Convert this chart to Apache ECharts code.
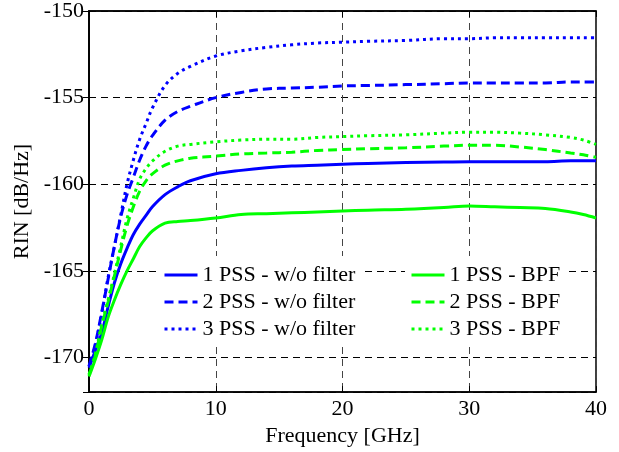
<!DOCTYPE html>
<html>
<head>
<meta charset="utf-8">
<script src="https://cdn.jsdelivr.net/npm/echarts@6/dist/echarts.min.js"></script>
<style>
  html, body { margin: 0; padding: 0; background: #fff; }
  #chart { width: 619px; height: 452px; }
</style>
</head>
<body>
<div id="chart"></div>
<script>
// frequency points [GHz]
const freq = [0, 0.5, 1, 1.5, 2, 2.5, 3, 3.5, 4, 4.5, 5, 6, 7, 8, 10, 12, 14, 16, 18, 20, 22, 25, 28, 30, 32, 34, 36, 38, 39, 40]

// RIN [dB/Hz]
const pss1NoFilter = [-170.6, -169.6, -168.6, -167.1, -165.7, -164.6, -163.7, -162.9, -162.3, -161.8, -161.3, -160.6, -160.15, -159.8, -159.4, -159.2, -159.05, -158.95, -158.9, -158.85, -158.8, -158.75, -158.72, -158.7, -158.7, -158.7, -158.7, -158.65, -158.65, -158.65]
const pss2NoFilter = [-170.5, -169.2, -167.4, -165.5, -163.6, -161.9, -160.6, -159.6, -158.6, -157.8, -157.2, -156.3, -155.8, -155.5, -155.0, -154.7, -154.5, -154.45, -154.4, -154.33, -154.3, -154.25, -154.2, -154.15, -154.15, -154.15, -154.15, -154.1, -154.1, -154.1]
const pss3NoFilter = [-170.5, -169.3, -167.5, -165.4, -163.6, -161.8, -160.0, -158.6, -157.4, -156.5, -155.6, -154.3, -153.6, -153.2, -152.6, -152.3, -152.1, -151.95, -151.85, -151.8, -151.75, -151.7, -151.6, -151.6, -151.55, -151.55, -151.55, -151.55, -151.55, -151.55]
const pss1Bpf = [-171.1, -170.1, -169.0, -167.7, -166.7, -165.8, -165.0, -164.3, -163.6, -163.1, -162.7, -162.25, -162.15, -162.1, -161.95, -161.75, -161.7, -161.65, -161.6, -161.55, -161.5, -161.45, -161.35, -161.25, -161.3, -161.35, -161.4, -161.6, -161.75, -161.95]
const pss2Bpf = [-171.0, -169.9, -168.2, -166.8, -165.3, -163.8, -162.4, -161.3, -160.4, -159.8, -159.4, -158.9, -158.65, -158.5, -158.38, -158.25, -158.2, -158.15, -158.05, -158.0, -157.95, -157.9, -157.8, -157.75, -157.75, -157.85, -158.0, -158.2, -158.3, -158.45]
const pss3Bpf = [-171.0, -169.8, -168.1, -166.7, -165.2, -163.6, -162.0, -160.8, -159.7, -159.1, -158.66, -158.1, -157.8, -157.7, -157.55, -157.45, -157.4, -157.4, -157.3, -157.25, -157.2, -157.15, -157.05, -157.0, -157.0, -157.05, -157.15, -157.3, -157.45, -157.7]

const namesNoFilter = ['1 PSS - w/o filter', '2 PSS - w/o filter', '3 PSS - w/o filter']
const namesBpf = ['1 PSS - BPF', '2 PSS - BPF', '3 PSS - BPF']

const FONT = 'Liberation Serif'
const BLUE = '#0000ff'
const GREEN = '#00ff00'
const DASH = [9, 5]
const DOT = [3, 4]

function pairs(ys) {
  return freq.map((x, i) => [x, ys[i]])
}

function line(name, ys, color, type) {
  return {
    name: name,
    type: 'line',
    data: pairs(ys),
    symbol: 'none',
    smooth: 0.35,
    lineStyle: { color: color, width: 3, type: type },
    itemStyle: { color: color },
    animation: false
  }
}

const gridDash = { color: '#000', width: 1, type: [7, 5] }
const legendBase = {
  orient: 'vertical',
  top: 256,
  itemWidth: 33,
  itemHeight: 14,
  itemGap: 5,
  padding: [8, 5, 4, 5],
  backgroundColor: '#fff',
  itemStyle: { opacity: 0 },  // hide the marker dot, keep only the line
  lineStyle: { width: 3 },
  textStyle: { fontFamily: FONT, fontSize: 22, color: '#000', lineHeight: 22 }
}

const chart = echarts.init(document.getElementById('chart'))
chart.setOption({
  animation: false,
  grid: {
    left: 89, right: 23, top: 10, bottom: 51,
    show: true, borderColor: '#000', borderWidth: 1.5
  },
  legend: [
    Object.assign({}, legendBase, { left: 158, data: namesNoFilter }),
    Object.assign({}, legendBase, { left: 405, data: namesBpf })
  ],
  xAxis: [
    {
      type: 'value',
      min: 0,
      max: 40,
      interval: 10,
      name: 'Frequency [GHz]',
      nameLocation: 'middle',
      nameGap: 26,
      nameTextStyle: { fontFamily: FONT, fontSize: 22, color: '#000' },
      axisLine: { lineStyle: { color: '#000', width: 1.5 } },
      axisTick: { inside: true, length: 6, lineStyle: { color: '#000' } },
      axisLabel: { fontFamily: FONT, fontSize: 22, color: '#000', margin: 6 },
      splitLine: { show: true, lineStyle: { color: '#444', width: 1, type: [7, 5] } }
    },
    {
      type: 'value',
      position: 'top',
      min: 0,
      max: 40,
      interval: 10,
      axisLine: { lineStyle: { color: '#000', width: 1.5 } },
      axisTick: { inside: true, length: 6, lineStyle: { color: '#000' } },
      axisLabel: { show: false },
      splitLine: { show: false }
    }
  ],
  yAxis: [
    {
      type: 'value',
      min: -172,
      max: -150,
      splitNumber: 4,
      name: 'RIN [dB/Hz]',
      nameLocation: 'middle',
      nameGap: 54,
      nameTextStyle: { fontFamily: FONT, fontSize: 22, color: '#000' },
      axisLine: { show: true, lineStyle: { color: '#000', width: 1.5 } },
      axisTick: { inside: true, length: 6, lineStyle: { color: '#000' } },
      axisLabel: { fontFamily: FONT, fontSize: 22, color: '#000', margin: 5, showMinLabel: false },
      splitLine: { show: true, lineStyle: gridDash }
    },
    {
      type: 'value',
      position: 'right',
      min: -172,
      max: -150,
      splitNumber: 4,
      axisLine: { show: true, lineStyle: { color: '#000', width: 1.5 } },
      axisTick: { inside: true, length: 6, lineStyle: { color: '#000' } },
      axisLabel: { show: false },
      splitLine: { show: false }
    }
  ],
  series: [
    line(namesNoFilter[0], pss1NoFilter, BLUE, 'solid'),
    line(namesNoFilter[1], pss2NoFilter, BLUE, DASH),
    line(namesNoFilter[2], pss3NoFilter, BLUE, DOT),
    line(namesBpf[0], pss1Bpf, GREEN, 'solid'),
    line(namesBpf[1], pss2Bpf, GREEN, DASH),
    line(namesBpf[2], pss3Bpf, GREEN, DOT)
  ]
})
</script>
</body>
</html>
